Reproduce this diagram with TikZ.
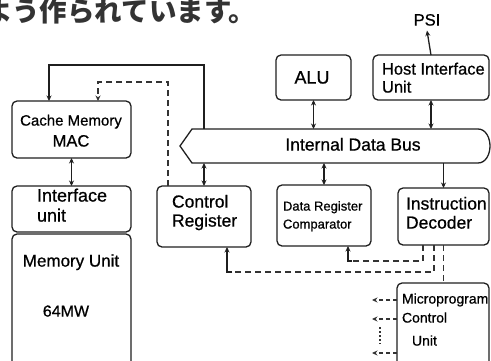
\documentclass[tikz,border=0pt]{standalone}
\usepackage{fontspec}
\setmainfont{Liberation Sans}[FakeBold=0.7]
\newfontfamily\jp{Noto Sans CJK JP}
\usetikzlibrary{arrows.meta}
\begin{document}
\begin{tikzpicture}[x=1pt,y=-1pt,
  every node/.style={inner sep=0pt, outer sep=0pt},
  box/.style={draw=black!88, rounded corners=5pt, line width=1.3pt},
  area/.style={},
  lbl/.style={anchor=west, text height=.716em, text depth=0pt},
  clbl/.style={anchor=center, text height=.716em, text depth=0pt},
  fs/.style={font=\fontsize{#1}{#1}\selectfont},
  ln/.style={draw=black!88, line width=1.3pt},
  dsh/.style={draw=black!80, line width=1.3pt, dash pattern=on 6pt off 4pt},
  sdsh/.style={draw=black!80, line width=1.2pt, dash pattern=on 4pt off 3pt},
  tip/.style={-{Stealth[length=5.5pt,width=5pt]}},
  dtip/.style={{Stealth[length=5.5pt,width=5pt]}-{Stealth[length=5.5pt,width=5pt]}}]
\useasboundingbox (0,0) rectangle (491,360);

% heading
\node[anchor=west, font=\jp\bfseries\fontsize{27.5}{27.5}\selectfont, text=black!80] (head) at (-15,11) {よう作られています。};

% boxes
\node[box, anchor=north west, minimum width=119pt, minimum height=57pt] (cache) at (12,101) {};
\node[box, anchor=north west, minimum width=119pt, minimum height=46pt] (iface) at (12,186) {};
\node[area, anchor=north west, minimum width=119pt, minimum height=127pt] (mem) at (12,234) {};
\draw[ln, rounded corners=5pt] (mem.south west) -- (mem.north west) -- (mem.north east) -- (mem.south east);
\node[box, anchor=north west, minimum width=75pt, minimum height=45pt] (alu) at (276,55) {};
\node[box, anchor=north west, minimum width=116pt, minimum height=45pt] (host) at (373,55) {};
\node[box, anchor=north west, minimum width=94pt, minimum height=61pt] (creg) at (157,186) {};
\node[box, anchor=north west, minimum width=94pt, minimum height=61pt] (drc) at (277,185) {};
\node[box, anchor=north west, minimum width=91pt, minimum height=57pt] (idec) at (398,188) {};
\node[area, anchor=north west, minimum width=92pt, minimum height=78pt] (mcu) at (397,283) {};
\draw[ln, rounded corners=5pt] (mcu.south west) -- (mcu.north west) -- (mcu.north east) -- (mcu.south east);

% bus
\node[area, minimum width=310pt, minimum height=34pt] (bus) at (335,146) {};
\draw[ln] ([xshift=12pt]bus.north west) -- ([xshift=-12pt]bus.north east)
  .. controls +(8,0) and +(0,-8) .. (bus.east)
  .. controls +(0,8) and +(8,0) .. ([xshift=-12pt]bus.south east)
  -- ([xshift=12pt]bus.south west) -- (bus.west) -- cycle;

% labels
\node[clbl, fs=15] (t1) at (71,122) {Cache Memory};
\node[clbl, fs=16.5] (t2) at (71,143) {MAC};
\node[lbl, fs=18] (t3) at (37,198) {Interface};
\node[lbl, fs=18] (t4) at (37,218) {unit};
\node[clbl, fs=17] (t5) at (71,263) {Memory Unit};
\node[clbl, fs=16] (t6) at (66,313) {64MW};
\node[clbl, fs=18] (t7) at (312,80) {ALU};
\node[lbl, fs=16.5] (t8) at (382,71) {Host Interface};
\node[lbl, fs=16.5] (t9) at (382,89) {Unit};
\node[clbl, fs=16.5] (psi) at (427,22) {PSI};
\node[clbl, fs=17.5] (t10) at (353,147) {Internal Data Bus};
\node[lbl, fs=17.5] (t11) at (172,204) {Control};
\node[lbl, fs=17.5] (t12) at (172,223) {Register};
\node[lbl, fs=13] (t13) at (283,207) {Data Register};
\node[lbl, fs=13] (t14) at (283,225) {Comparator};
\node[lbl, fs=17.5] (t15) at (406,206) {Instruction};
\node[lbl, fs=17.5] (t16) at (406,225) {Decoder};
\node[lbl, fs=14] (t17) at (402,300) {Microprogram};
\node[lbl, fs=14] (t18) at (402,319) {Control};
\node[lbl, fs=14] (t19) at (412,342) {Unit};

% coordinates
\coordinate (topL) at (49,65);
\coordinate (topD) at (98,82);
\coordinate (d1) at (348,261);
\coordinate (d2) at (227,272);
\coordinate (m1) at (372,300);
\coordinate (m2) at (372,319);
\coordinate (m3) at (372,353);
\coordinate (v1) at (380,327);
\coordinate (v2) at (380,344);

% connectors
\draw[ln, dtip] (cache.south) -- (iface.north);
\draw[ln, tip] (bus.north -| creg.north) |- (topL) -- (topL |- cache.north);
\draw[dsh, tip] ([xshift=11pt]creg.north west) |- (topD) -- (topD |- cache.north);
\draw[ln, dtip] (alu.south) -- (alu.south |- bus.north);
\draw[ln, dtip] (host.south) -- (host.south |- bus.north);
\draw[ln, tip] (host.north) -- ([yshift=-5pt]psi.south);
\draw[ln, dtip] (bus.south -| creg.north) -- (creg.north);
\draw[ln, dtip] (bus.south -| drc.north) -- (drc.north);
\draw[ln, tip] (bus.south -| idec.north) -- (idec.north);
\draw[dsh] ([xshift=25pt]idec.south west) |- ([xshift=4pt]d1);
\draw[ln, tip] ([xshift=4pt]d1) -- (d1) -- (d1 |- drc.south);
\draw[dsh] ([xshift=36pt]idec.south west) |- ([xshift=5pt]d2);
\draw[ln, tip] ([xshift=5pt]d2) -- (d2) -- (d2 |- creg.south);
\draw[dsh] (idec.south) -- (idec.south |- mcu.north);
\draw[sdsh, tip] (m1 -| mcu.west) -- (m1);
\draw[sdsh, tip] (m2 -| mcu.west) -- (m2);
\draw[sdsh, tip] (m3 -| mcu.west) -- (m3);
\draw[line width=1.3pt, draw=black!80, dash pattern=on 1.5pt off 2.5pt] (v1) -- (v2);
\end{tikzpicture}
\end{document}
